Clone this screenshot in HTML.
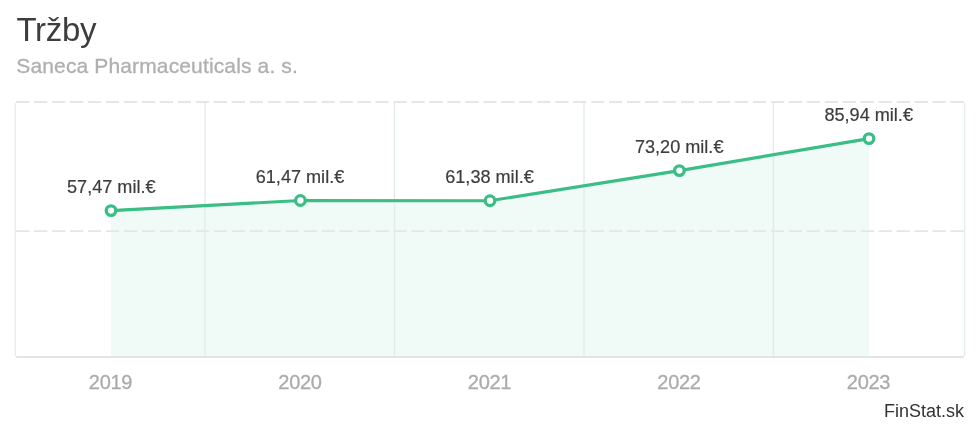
<!DOCTYPE html>
<html><head><meta charset="utf-8">
<style>
html,body{margin:0;padding:0;background:#fff;}
body{width:980px;height:425px;overflow:hidden;position:relative;font-family:"Liberation Sans",sans-serif;}
svg{position:absolute;left:0;top:0;will-change:transform;}
text{font-family:"Liberation Sans",sans-serif;}
</style></head><body>
<svg width="980" height="425" viewBox="0 0 980 425">
<rect width="980" height="425" fill="#fff"/>
<text x="16.4" y="41" font-size="33" fill="#3d3d3d" textLength="80.2" lengthAdjust="spacing">Tržby</text>
<text x="16.3" y="73.2" font-size="21" fill="#b1aeae" stroke="#b1aeae" stroke-width="0.3" textLength="281.5" lengthAdjust="spacing">Saneca Pharmaceuticals a. s.</text>
<!-- area -->
<path d="M111 210.6 L300.4 200.5 L490 200.7 L679.4 170.6 L869 138.6 L869 356 L111 356 Z" fill="#3abe86" fill-opacity="0.08"/>
<!-- vertical grid -->
<g stroke="#e1ece9" stroke-width="1.4">
<line x1="15.4" y1="103" x2="15.4" y2="356" stroke="#e3eeec"/>
<line x1="205" y1="103" x2="205" y2="356"/>
<line x1="394.5" y1="103" x2="394.5" y2="356"/>
<line x1="584" y1="103" x2="584" y2="356"/>
<line x1="773.4" y1="103" x2="773.4" y2="356"/>
<line x1="964.6" y1="103" x2="964.6" y2="356" stroke="#e3eeec"/>
</g>
<!-- horizontal dashed -->
<g stroke="#e6e6e6" stroke-dasharray="13.2 4.77">
<line x1="16.1" y1="102" x2="964" y2="102" stroke-width="2"/>
<line x1="16.1" y1="231.1" x2="964" y2="231.1" stroke-width="1.7"/>
</g>
<line x1="16.2" y1="357" x2="963.8" y2="357" stroke="#e4e4e4" stroke-width="2"/>
<!-- line -->
<path d="M111 210.6 L300.4 200.5 L490 200.7 L679.4 170.6 L869 138.6" fill="none" stroke="#3abe86" stroke-width="3.1" stroke-linejoin="round" stroke-linecap="round"/>
<g fill="#fff" stroke="#3abe86" stroke-width="3.3">
<circle cx="111" cy="210.6" r="4.8"/>
<circle cx="300.4" cy="200.5" r="4.8"/>
<circle cx="490" cy="200.7" r="4.8"/>
<circle cx="679.4" cy="170.6" r="4.8"/>
<circle cx="869" cy="138.6" r="4.8"/>
</g>
<g font-size="18.1" fill="#3d3d3d" stroke="#3d3d3d" stroke-width="0.2" text-anchor="middle">
<text x="111.3" y="192.6">57,47 mil.€</text>
<text x="300" y="183.2">61,47 mil.€</text>
<text x="489.5" y="183.2">61,38 mil.€</text>
<text x="679.2" y="153.4">73,20 mil.€</text>
<text x="868.7" y="121.2">85,94 mil.€</text>
</g>
<g font-size="20" fill="#adaaaa" stroke="#adaaaa" stroke-width="0.3" text-anchor="middle">
<text x="110.6" y="389" textLength="43.6" lengthAdjust="spacing">2019</text>
<text x="300.1" y="389" textLength="43.6" lengthAdjust="spacing">2020</text>
<text x="489.6" y="389" textLength="43.6" lengthAdjust="spacing">2021</text>
<text x="679.1" y="389" textLength="43.6" lengthAdjust="spacing">2022</text>
<text x="868.6" y="389" textLength="43.6" lengthAdjust="spacing">2023</text>
</g>
<text x="964" y="417" font-size="18" fill="#333" text-anchor="end">FinStat.sk</text>
</svg>
</body></html>
